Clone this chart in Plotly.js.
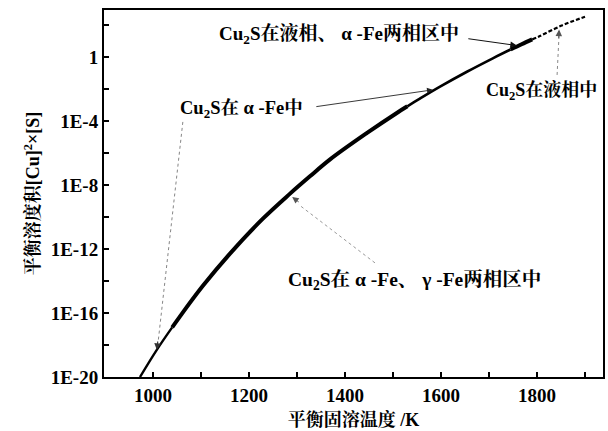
<!DOCTYPE html>
<html>
<head>
<meta charset="utf-8">
<script src="https://cdn.plot.ly/plotly-3.0.1.min.js"></script>
<style>html,body{margin:0;padding:0;background:#fff;}#chart{width:608px;height:431px;}</style>
</head>
<body>
<div id="chart"></div>
<script>
// ---- data (temperature K, equilibrium solubility product [Cu]^2 x [S]) ----
const alphaLowT   = [973, 1008, 1040];
const alphaLowY   = [1e-20, 5.0e-19, 1.26e-17];
const alphaGammaT = [1040, 1056, 1104, 1160, 1229, 1285, 1327, 1369, 1446, 1508, 1530];
const alphaGammaY = [1.26e-17, 6.0e-17, 5.0e-15, 5.0e-13, 7.9e-11, 2.8e-9, 3.5e-8, 4.0e-7, 1.8e-5, 3.2e-4, 8.3e-4];
const alphaHighT  = [1530, 1556, 1598, 1654, 1708, 1745];
const alphaHighY  = [8.3e-4, 2.5e-3, 1.4e-2, 0.12, 0.83, 2.95];
const liqAlphaT   = [1745, 1768, 1790];
const liqAlphaY   = [2.95, 6.3, 12.6];
const liquidT     = [1790, 1806, 1850, 1900];
const liquidY     = [12.6, 20.4, 89, 330];

const xTickVals  = [1000, 1200, 1400, 1600, 1800];
const xTickText  = ['1000', '1200', '1400', '1600', '1800'];
const xMinorVals = [900, 1100, 1300, 1500, 1700, 1900];
const yTickVals  = [1e-20, 1e-16, 1e-12, 1e-8, 1e-4, 1];
const yTickText  = ['1E-20', '1E-16', '1E-12', '1E-8', '1E-4', '1'];
const yMinorVals = [1e-18, 1e-14, 1e-10, 1e-6, 1e-2, 1e2];

const labelLiqAlpha = 'Cu<sub>2</sub>S在液相、 α -Fe两相区中';
const labelLiquid   = 'Cu<sub>2</sub>S在液相中';
const labelAlpha    = 'Cu<sub>2</sub>S在 α -Fe中';
const labelAG       = 'Cu<sub>2</sub>S在 α -Fe、 γ -Fe两相区中';

const serif = 'Liberation Serif, Times New Roman, Noto Serif CJK SC, Noto Sans CJK SC, serif';
const cjk = 'Liberation Serif, Noto Serif CJK SC, Noto Sans CJK SC, serif';

function seg(x, y, w, dash) {
  return {x: x, y: y, type: 'scatter', mode: 'lines', hoverinfo: 'skip',
          line: {color: '#000', width: w, dash: dash || 'solid', shape: 'spline', smoothing: 1},
          showlegend: false};
}
const traces = [
  seg(alphaLowT, alphaLowY, 2.4),
  seg(alphaGammaT, alphaGammaY, 4),
  seg(alphaHighT, alphaHighY, 2.6),
  seg(liqAlphaT, liqAlphaY, 4),
  seg(liquidT, liquidY, 2.2, '4px,2px')
];

function label(text, x, y, size) {
  return {text: text, xref: 'paper', yref: 'paper', x: x, y: y, xanchor: 'center', yanchor: 'middle',
          showarrow: false, font: {family: cjk, size: size, color: '#000', weight: 'bold'}};
}
function arrow(x, logy, ax, ay, color, width) {
  return {text: '', xref: 'x', yref: 'y', x: x, y: logy, ax: ax, ay: ay, showarrow: true,
          arrowhead: 2, arrowsize: 1.3, arrowwidth: width, arrowcolor: color};
}
const annotations = [
  label(labelLiqAlpha, 0.47, 0.932, 19),
  label(labelLiquid, 0.876, 0.777, 18),
  label(labelAlpha, 0.275, 0.728, 18.5),
  label(labelAG, 0.623, 0.264, 19.5),
  arrow(1758, 0.72, -50, -7, '#111', 1),
  arrow(1846, 1.72, -0.4, 10, '#555', 1),
  arrow(1583, -2.05, -118, 17, '#222', 0.9),
  arrow(1008, -18.3, 1.1, -9.9, '#333', 1),
  arrow(1290, -8.75, 8, 6, '#555', 1)
];
const shapes = [
  {type: 'line', xref: 'paper', yref: 'paper', x0: 0.908, y0: 0.823, x1: 0.912, y1: 0.935,
   line: {color: '#888', width: 1, dash: 'dot'}},
  {type: 'line', xref: 'paper', yref: 'paper', x0: 0.158, y0: 0.695, x1: 0.108, y1: 0.09,
   line: {color: '#777', width: 0.9, dash: '3px,3px'}},
  {type: 'line', xref: 'paper', yref: 'paper', x0: 0.543, y0: 0.311, x1: 0.39, y1: 0.47,
   line: {color: '#999', width: 1, dash: 'dot'}}
];

const tickFont = {family: serif, size: 19, color: '#000', weight: 'bold'};
const layout = {
  width: 608, height: 431,
  margin: {l: 104, r: 5, t: 10, b: 54},
  paper_bgcolor: '#fff', plot_bgcolor: '#fff',
  showlegend: false,
  xaxis: {
    range: [898, 1937.5], tickmode: 'array', tickvals: xTickVals, ticktext: xTickText,
    ticks: 'inside', ticklen: 5, tickwidth: 1.5, tickcolor: '#000',
    minor: {tickmode: 'array', tickvals: xMinorVals, ticks: 'inside', ticklen: 5, tickwidth: 1.5, tickcolor: '#000', showgrid: false},
    showline: true, linewidth: 2, linecolor: '#000', mirror: true,
    showgrid: false, zeroline: false, tickfont: tickFont,
    title: {text: '平衡固溶温度 /K', font: {family: cjk, size: 18, color: '#000', weight: 'bold'}, standoff: 9}
  },
  yaxis: {
    type: 'log', range: [-20, 2.94], tickmode: 'array', tickvals: yTickVals, ticktext: yTickText,
    ticks: 'inside', ticklen: 5, tickwidth: 1.5, tickcolor: '#000',
    minor: {tickmode: 'array', tickvals: yMinorVals, ticks: 'inside', ticklen: 5, tickwidth: 1.5, tickcolor: '#000', showgrid: false},
    showline: true, linewidth: 2, linecolor: '#000', mirror: true,
    showgrid: false, zeroline: false, tickfont: tickFont,
    title: {text: '平衡溶度积[Cu]<sup>2</sup>×[S]', font: {family: cjk, size: 18, color: '#000', weight: 'bold'}, standoff: 6}
  },
  annotations: annotations,
  shapes: shapes
};
Plotly.newPlot('chart', traces, layout, {staticPlot: true, displayModeBar: false});
</script>
</body>
</html>
